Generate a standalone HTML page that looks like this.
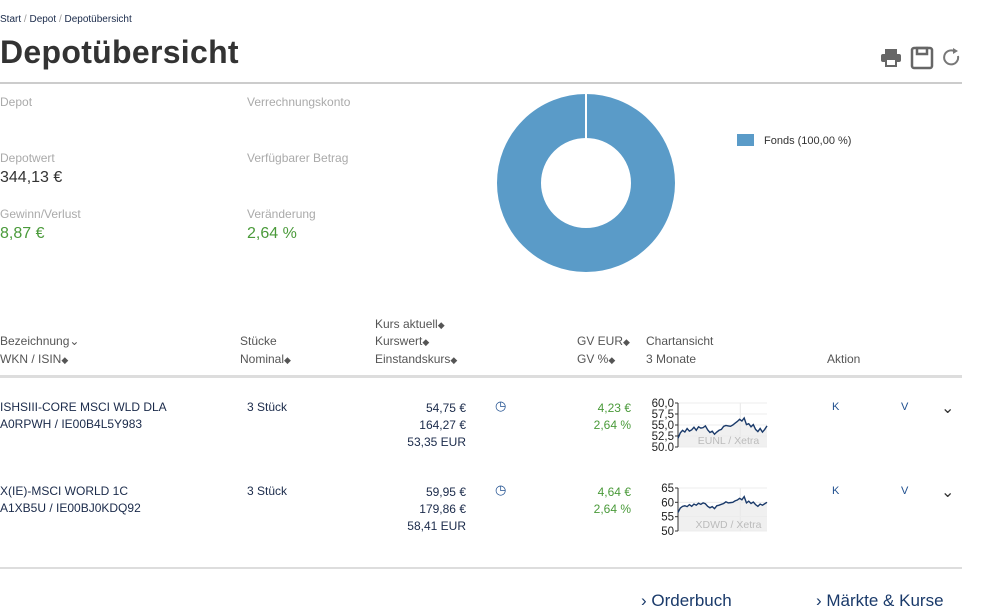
<!DOCTYPE html>
<html><head><meta charset="utf-8">
<style>
body{margin:0;width:1004px;height:614px;overflow:hidden;background:#fff;font-family:"Liberation Sans","DejaVu Sans",sans-serif;color:#333;position:relative}
.a{position:absolute;white-space:nowrap}
.lbl{color:#aaa;font-size:12px}
.val{font-size:16px;color:#333}
.th{color:#555;font-size:12px}
.td{font-size:12px;color:#1a2a4a}
.grn{color:#4a9a3a}
.sort{font-size:9px;color:#555}
.blue{color:#1f4f8f}
</style></head><body>
<div class="a" style="left:0;top:14px;font-size:10px;color:#1a2a4a">Start <span style="color:#999">/</span> Depot <span style="color:#999">/</span> Depotübersicht</div>
<div class="a" style="left:0;top:34px;font-size:32px;font-weight:bold;color:#333;letter-spacing:0.3px">Depotübersicht</div>
<svg class="a" style="left:880px;top:46px" width="84" height="24">
<g fill="#666"><rect x="5" y="3" width="12" height="5"/><rect x="1" y="8" width="20" height="8" rx="2"/><rect x="6" y="13" width="10" height="7" fill="#fff" stroke="#666" stroke-width="2"/></g>
<g fill="none" stroke="#666" stroke-width="2.5"><rect x="32" y="2" width="20" height="20" rx="2"/><rect x="37" y="2" width="10" height="6"/></g>
<g><path d="M78 10 A7 7 0 1 1 74 5" fill="none" stroke="#777" stroke-width="2"/><path d="M73 2 L78 5 L73 8Z" fill="#777"/></g>
</svg>
<div class="a" style="left:0;top:82px;width:962px;height:2px;background:#ccc"></div>
<div class="a lbl" style="left:0;top:95px">Depot</div>
<div class="a lbl" style="left:247px;top:95px">Verrechnungskonto</div>
<div class="a lbl" style="left:0;top:151px">Depotwert</div>
<div class="a val" style="left:0;top:169px">344,13 €</div>
<div class="a lbl" style="left:247px;top:151px">Verfügbarer Betrag</div>
<div class="a lbl" style="left:0;top:207px">Gewinn/Verlust</div>
<div class="a val grn" style="left:0;top:225px">8,87 €</div>
<div class="a lbl" style="left:247px;top:207px">Veränderung</div>
<div class="a val grn" style="left:247px;top:225px">2,64 %</div>
<svg class="a" style="left:490px;top:88px" width="200" height="190">
<circle cx="96" cy="95" r="67" fill="none" stroke="#5a9bc8" stroke-width="44"/>
<line x1="96" y1="5" x2="96" y2="51" stroke="#fff" stroke-width="2"/>
</svg>
<div class="a" style="left:737px;top:134px;font-size:11px;color:#333"><span style="display:inline-block;width:17px;height:12px;background:#5a9bc8;vertical-align:-2px;margin-right:10px"></span>Fonds (100,00 %)</div>

<div class="a th" style="left:375px;top:317px">Kurs aktuell<span class="sort">◆</span></div>
<div class="a th" style="left:0;top:334px">Bezeichnung⌄</div>
<div class="a th" style="left:240px;top:334px">Stücke</div>
<div class="a th" style="left:375px;top:334px">Kurswert<span class="sort">◆</span></div>
<div class="a th" style="left:577px;top:334px">GV EUR<span class="sort">◆</span></div>
<div class="a th" style="left:646px;top:334px">Chartansicht</div>
<div class="a th" style="left:0;top:352px">WKN / ISIN<span class="sort">◆</span></div>
<div class="a th" style="left:240px;top:352px">Nominal<span class="sort">◆</span></div>
<div class="a th" style="left:375px;top:352px">Einstandskurs<span class="sort">◆</span></div>
<div class="a th" style="left:577px;top:352px">GV %<span class="sort">◆</span></div>
<div class="a th" style="left:646px;top:352px">3 Monate</div>
<div class="a th" style="left:827px;top:352px">Aktion</div>
<div class="a" style="left:0;top:375px;width:962px;height:3px;background:#ddd"></div>

<!-- row 1 -->
<div class="a td" style="left:0;top:400px">ISHSIII-CORE MSCI WLD DLA</div>
<div class="a td" style="left:0;top:417px">A0RPWH / IE00B4L5Y983</div>
<div class="a td" style="left:247px;top:400px">3 Stück</div>
<div class="a td" style="left:380px;top:400px;width:86px;text-align:right;line-height:17px">54,75 €<br>164,27 €<br>53,35 EUR</div>
<div class="a blue" style="left:495px;top:398px;font-size:13px">◷</div>
<div class="a td grn" style="left:560px;top:400px;width:71px;text-align:right;line-height:17px">4,23 €<br>2,64 %</div>
<div class="a td blue" style="left:832px;top:401px;font-size:11px">K</div>
<div class="a td blue" style="left:901px;top:401px;font-size:11px">V</div>
<div class="a" style="left:941px;top:398px;font-size:16px;color:#333">⌄</div>
<svg class="a" id="sp1" style="left:646px;top:395px" width="125" height="56"></svg>

<!-- row 2 -->
<div class="a td" style="left:0;top:484px">X(IE)-MSCI WORLD 1C</div>
<div class="a td" style="left:0;top:501px">A1XB5U / IE00BJ0KDQ92</div>
<div class="a td" style="left:247px;top:484px">3 Stück</div>
<div class="a td" style="left:380px;top:484px;width:86px;text-align:right;line-height:17px">59,95 €<br>179,86 €<br>58,41 EUR</div>
<div class="a blue" style="left:495px;top:482px;font-size:13px">◷</div>
<div class="a td grn" style="left:560px;top:484px;width:71px;text-align:right;line-height:17px">4,64 €<br>2,64 %</div>
<div class="a td blue" style="left:832px;top:485px;font-size:11px">K</div>
<div class="a td blue" style="left:901px;top:485px;font-size:11px">V</div>
<div class="a" style="left:941px;top:482px;font-size:16px;color:#333">⌄</div>
<svg class="a" id="sp2" style="left:646px;top:480px" width="125" height="56"></svg>

<div class="a" style="left:0;top:567px;width:962px;height:2px;background:#ddd"></div>
<div class="a blue" style="left:641px;top:591px;font-size:17px;color:#1a3a6a">› Orderbuch</div>
<div class="a blue" style="left:816px;top:591px;font-size:17px;color:#1a3a6a">› Märkte &amp; Kurse</div>

<script>
const eunlValues=[52.0,53.2,53.8,53.4,54.2,53.6,53.9,54.5,53.8,54.6,54.3,54.4,54.8,53.9,53.3,53.6,52.9,53.4,53.8,54.0,54.7,54.9,54.8,54.7,55.0,55.4,55.8,56.3,55.9,56.6,55.1,55.3,54.6,55.1,54.0,53.5,54.2,53.4,54.0,54.8];
const eunlTicks=[50,52.5,55,57.5,60];
const eunlTickLabels=["50,0","52,5","55,0","57,5","60,0"];
const xdwdValues=[56.5,58.0,58.6,58.8,58.5,59.2,58.6,59.4,59.0,59.7,59.3,59.8,59.5,58.6,58.1,58.5,57.8,58.8,59.0,59.3,59.6,60.2,59.8,59.9,60.0,60.5,60.8,61.4,60.9,62.0,59.8,60.4,59.6,60.1,59.2,58.6,59.4,59.0,59.5,60.0];
const xdwdTicks=[50,55,60,65];
const xdwdTickLabels=["50","55","60","65"];
const NS="http://www.w3.org/2000/svg";
function mk(p,t,a){const e=document.createElementNS(NS,t);for(const k in a)e.setAttribute(k,a[k]);p.appendChild(e);return e;}
function spark(id,vals,ticks,labels,x0,x1,yTop,yBot,label){
  const s=document.getElementById(id);
  const mn=ticks[0],mx=ticks[ticks.length-1];
  const y=v=>yBot-(v-mn)/(mx-mn)*(yBot-yTop);
  const x=i=>x0+i*(x1-x0)/(vals.length-1);
  const pts=vals.map((v,i)=>x(i)+','+y(v)).join(' ');
  const bg=mk(s,'polygon',{points:x0+','+yBot+' '+pts+' '+x1+','+yBot,fill:'#f0f0f0'});
  
  
  mk(s,'line',{x1:x0+(x1-x0)*0.7,x2:x0+(x1-x0)*0.7,y1:yTop,y2:yBot,stroke:'#e8e8e8'});
  ticks.forEach((t,i)=>{
    mk(s,'line',{x1:x0,x2:x1,y1:y(t),y2:y(t),stroke:'#ececec'});
    mk(s,'line',{x1:x0-3,x2:x0,y1:y(t),y2:y(t),stroke:'#333'});
    const tx=mk(s,'text',{x:x0-4,y:y(t)+4,'text-anchor':'end','font-size':'11.5','fill':'#222','font-family':'Liberation Sans, sans-serif'});
    tx.textContent=labels[i];
    
    
  });
  mk(s,'line',{x1:x0,x2:x0,y1:yTop,y2:yBot,stroke:'#333'});
  const lt=mk(s,'text',{x:(x0+x1)/2+6,y:yBot-3,'text-anchor':'middle','font-size':'10.5','fill':'#bbb','font-family':'Liberation Sans, sans-serif'});
  lt.textContent=label;
  
  
  const pl=mk(s,'polyline',{points:pts,fill:'none',stroke:'#1a3a6a','stroke-width':'1.4'});
  
  
}
spark('sp1',eunlValues,eunlTicks,eunlTickLabels,32,121,8,52,'EUNL / Xetra');
spark('sp2',xdwdValues,xdwdTicks,xdwdTickLabels,32,121,8,51,'XDWD / Xetra');
</script>
</body></html>
